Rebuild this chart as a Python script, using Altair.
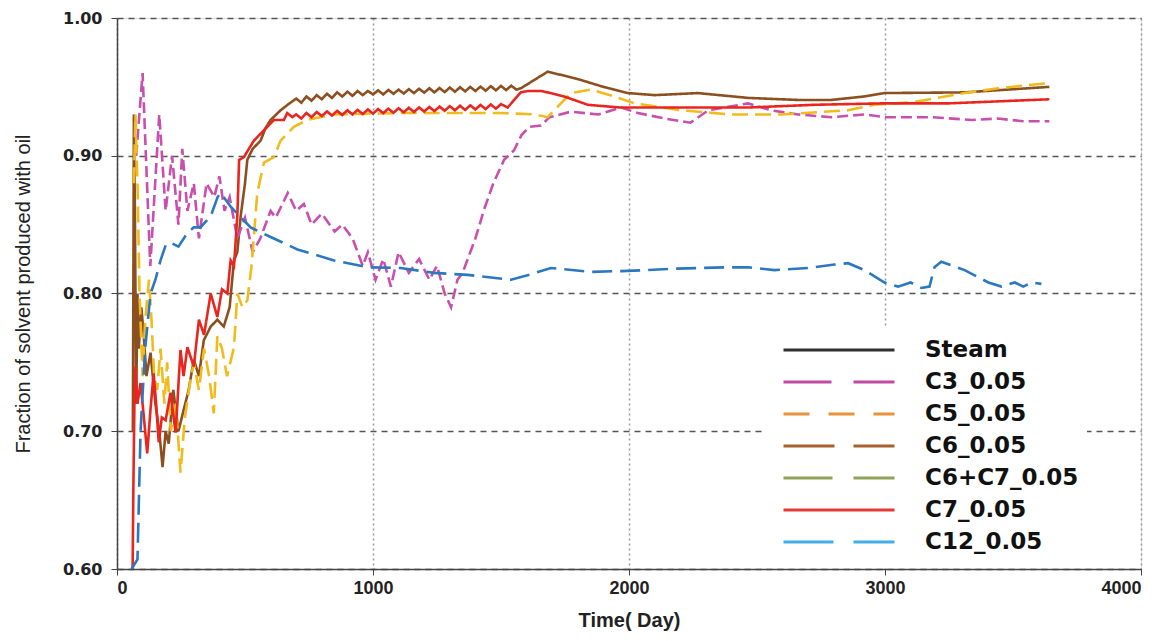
import altair as alt
import pandas as pd

# ---------------- data ----------------
names = ["Steam", "C3_0.05", "C5_0.05", "C6_0.05", "C6+C7_0.05", "C7_0.05", "C12_0.05"]

steam_day = [62, 66, 70, 75, 80, 85, 95, 104, 115, 131, 150, 165, 178, 190, 202, 220, 240, 261, 280, 300,
             320, 339, 366, 392, 417, 440, 457, 470, 483, 500, 509, 530, 561, 580, 600, 639, 670,
             700, 720, 740, 760, 780, 800, 820, 840, 860, 880, 900, 920, 940, 960, 980, 1000, 1020, 1040,
             1060, 1080, 1100, 1120, 1140, 1160, 1180, 1200, 1220, 1240, 1260, 1280, 1300, 1320, 1340,
             1360, 1380, 1400, 1420, 1440, 1460, 1480, 1500, 1520, 1540, 1560, 1578,
             1630, 1682, 1750, 1812, 1900, 1996, 2100, 2269, 2465, 2660, 2789, 2918, 2998, 3311, 3642]
steam_val = [0.70, 0.93, 0.86, 0.72, 0.80, 0.76, 0.79, 0.771, 0.74, 0.757, 0.72, 0.70, 0.674, 0.70, 0.691,
             0.73, 0.70, 0.716, 0.73, 0.752, 0.74, 0.766, 0.776, 0.781, 0.776, 0.79, 0.824, 0.83, 0.856,
             0.88, 0.897, 0.905, 0.911, 0.92, 0.926, 0.933, 0.9375,
             0.9415, 0.9385, 0.9430, 0.9400, 0.9440, 0.9410, 0.9450, 0.9420, 0.9460, 0.9430, 0.9465,
             0.9435, 0.9470, 0.9440, 0.9470, 0.9445, 0.9475, 0.9445, 0.9478, 0.9450, 0.9480, 0.9452,
             0.9483, 0.9455, 0.9486, 0.9458, 0.9490, 0.9460, 0.9492, 0.9462, 0.9495, 0.9465, 0.9497,
             0.9467, 0.9500, 0.9470, 0.9502, 0.9472, 0.9505, 0.9475, 0.9507, 0.9477, 0.9508, 0.9480,
             0.949, 0.955, 0.961, 0.958, 0.955, 0.950, 0.9455, 0.944, 0.9455, 0.942, 0.9405, 0.9405,
             0.943, 0.9455, 0.946, 0.950]

c3_day = [75, 100, 130, 165, 190, 215, 240, 255, 275, 300, 320, 350, 380, 400, 420, 440, 470, 500, 530,
          560, 600, 620, 667, 700, 730, 760, 800, 850, 880, 920, 960, 980, 1010, 1040, 1070, 1100, 1140,
          1180, 1220, 1250, 1280, 1305, 1330, 1350, 1400, 1434, 1470, 1512, 1551, 1580, 1610, 1656, 1690,
          1773, 1880, 1970, 2035, 2140, 2240, 2310, 2465, 2555, 2660, 2790, 2920, 3000, 3180, 3340,
          3440, 3545, 3642]
c3_val = [0.90, 0.96, 0.82, 0.93, 0.86, 0.90, 0.85, 0.905, 0.86, 0.88, 0.84, 0.88, 0.87, 0.885, 0.86,
          0.87, 0.84, 0.855, 0.83, 0.84, 0.86, 0.855, 0.873, 0.86, 0.865, 0.85, 0.858, 0.845, 0.85, 0.84,
          0.82, 0.83, 0.81, 0.825, 0.805, 0.83, 0.815, 0.825, 0.81, 0.82, 0.80, 0.79, 0.81, 0.815, 0.84,
          0.861, 0.88, 0.897, 0.904, 0.915, 0.921, 0.922, 0.928, 0.932, 0.930, 0.935, 0.931, 0.927,
          0.924, 0.933, 0.938, 0.933, 0.930, 0.928, 0.930, 0.928, 0.928, 0.926, 0.927, 0.925, 0.925]

c5_day = [66, 72, 80, 88, 100, 110, 125, 135, 145, 157, 170, 185, 196, 210, 230, 248, 265, 287, 300, 320,
          340, 360, 378, 392, 410, 430, 457, 470, 490, 509, 525, 548, 574, 613, 639, 691, 744, 848, 1108,
          1500, 1630, 1682, 1734, 1773, 1851, 1943, 2022, 2203, 2399, 2595, 2856, 2958, 3115, 3311,
          3443, 3650]
c5_val = [0.88, 0.93, 0.88, 0.80, 0.74, 0.78, 0.81, 0.78, 0.74, 0.73, 0.76, 0.72, 0.75, 0.70, 0.72, 0.67,
          0.71, 0.737, 0.75, 0.73, 0.76, 0.74, 0.713, 0.769, 0.76, 0.74, 0.761, 0.80, 0.79, 0.795, 0.819,
          0.873, 0.895, 0.899, 0.911, 0.921, 0.926, 0.930, 0.931, 0.931, 0.930, 0.928, 0.938, 0.9455,
          0.948, 0.943, 0.938, 0.933, 0.930, 0.930, 0.933, 0.937, 0.939, 0.9455, 0.949, 0.953]

c7_day = [61, 64, 68, 72, 80, 92, 105, 118, 131, 143, 153, 163, 175, 190, 209, 229, 248, 260, 275, 300,
          320, 340, 366, 392, 410, 431, 444, 457, 470, 477, 496, 515, 535, 561, 587, 613, 652, 665, 685,
          700, 720, 740, 760, 780, 800, 820, 840, 860, 880, 900, 920, 940, 960, 980, 1000, 1020, 1040,
          1060, 1080, 1100, 1120, 1140, 1160, 1180, 1200, 1220, 1240, 1260, 1280, 1300, 1320, 1340,
          1360, 1380, 1400, 1420, 1440, 1460, 1480, 1500, 1526, 1577, 1604, 1656, 1682, 1747, 1839,
          1968, 2203, 2465, 2725, 2985, 3246, 3642]
c7_val = [0.60, 0.66, 0.72, 0.747, 0.72, 0.735, 0.71, 0.684, 0.716, 0.742, 0.72, 0.692, 0.71, 0.708,
          0.728, 0.699, 0.759, 0.74, 0.761, 0.747, 0.781, 0.77, 0.80, 0.783, 0.803, 0.80, 0.824, 0.82,
          0.856, 0.897, 0.899, 0.905, 0.911, 0.916, 0.921, 0.926, 0.926, 0.931, 0.928,
          0.9300, 0.9270, 0.9310, 0.9280, 0.9318, 0.9288, 0.9322, 0.9292, 0.9326, 0.9296, 0.9330,
          0.9300, 0.9333, 0.9303, 0.9336, 0.9306, 0.9339, 0.9309, 0.9342, 0.9312, 0.9345, 0.9315,
          0.9348, 0.9318, 0.9351, 0.9321, 0.9354, 0.9324, 0.9357, 0.9327, 0.9360, 0.9330, 0.9363,
          0.9333, 0.9366, 0.9336, 0.9369, 0.9339, 0.9372, 0.9342, 0.9375, 0.935, 0.946, 0.947, 0.947,
          0.946, 0.943, 0.937, 0.935, 0.935, 0.935, 0.937, 0.938, 0.938, 0.941]

c12_day = [57, 80, 92, 110, 131, 150, 170, 190, 209, 240, 275, 300, 326, 366, 393, 405, 444, 522, 600,
           705, 848, 979, 1108, 1238, 1370, 1539, 1600, 1695, 1851, 1996, 2177, 2373, 2465, 2568, 2700,
           2803, 2856, 2920, 2998, 3051, 3100, 3142, 3174, 3193, 3220, 3311, 3404, 3455, 3507, 3540,
           3572, 3611]
c12_val = [0.60, 0.607, 0.70, 0.76, 0.80, 0.81, 0.824, 0.835, 0.837, 0.834, 0.844, 0.848, 0.848, 0.856,
           0.870, 0.873, 0.863, 0.848, 0.841, 0.832, 0.824, 0.819, 0.8185, 0.815, 0.8135, 0.810, 0.813,
           0.8185, 0.8157, 0.8164, 0.818, 0.819, 0.819, 0.817, 0.8185, 0.821, 0.822, 0.817, 0.808, 0.805,
           0.808, 0.804, 0.805, 0.819, 0.823, 0.817, 0.808, 0.805, 0.808, 0.805, 0.808, 0.807]

x_ticks = [0, 1000, 2000, 3000, 4000]
y_ticks = [0.6, 0.7, 0.8, 0.9, 1.0]

# ---------------- styles ----------------
plot_colors = ["#8c5020", "#c94fae", "#f2bb1c", "#a8612c", "#8fa35a", "#e8251e", "#2b78c0"]
plot_dashes = [[1, 0], [11, 5], [16, 7], [12, 6], [12, 6], [1, 0], [20, 8]]
legend_colors = ["#2f2f2f", "#c04aa5", "#e8923a", "#a8612c", "#8fa35a", "#e53a35", "#41ade6"]
legend_dashes = [[1, 0], [48, 22], [26, 19], [51, 19], [49, 21], [1, 0], [50, 20]]

rows = []
for name, days, vals in [("Steam", steam_day, steam_val), ("C3_0.05", c3_day, c3_val),
                         ("C5_0.05", c5_day, c5_val), ("C7_0.05", c7_day, c7_val),
                         ("C12_0.05", c12_day, c12_val)]:
    for i, (d, v) in enumerate(zip(days, vals)):
        rows.append({"series": name, "day": d, "frac": v, "order": i})
df = pd.DataFrame(rows)

x_enc = alt.X("day:Q", scale=alt.Scale(domain=[0, 4000], nice=False, zero=False),
              axis=alt.Axis(values=x_ticks, title="Time( Day)", format="d",
                            grid=True, gridColor="#9a9a9a", gridDash=[2, 3], gridWidth=1.5,
                            domainColor="#444", domainWidth=1.5, tickColor="#444", tickSize=6,
                            labelFont="Liberation Sans", labelFontWeight="bold",
                            labelFontSize=18, labelColor="#222", labelPadding=4,
                            titleFont="Liberation Sans", titleFontWeight="bold",
                            titleFontSize=20, titleColor="#222", titlePadding=13))
y_enc = alt.Y("frac:Q", scale=alt.Scale(domain=[0.6, 1.0], nice=False, zero=False),
              axis=alt.Axis(values=y_ticks, format=".2f",
                            title="Fraction of solvent produced  with oil",
                            grid=True, gridColor="#555", gridDash=[6, 5], gridWidth=1.5,
                            domainColor="#444", domainWidth=1.5, tickColor="#444", tickSize=6,
                            labelFont="DejaVu Sans", labelFontWeight="bold", labelFontSize=16,
                            labelColor="#222", labelPadding=9,
                            titleFont="Liberation Sans", titleFontWeight="normal",
                            titleFontSize=20, titleColor="#222", titlePadding=29))

lines = alt.Chart(df).mark_line(strokeWidth=2.6, clip=True).encode(
    x=x_enc, y=y_enc, order="order:Q",
    color=alt.Color("series:N", scale=alt.Scale(domain=names, range=plot_colors), legend=None),
    strokeDash=alt.StrokeDash("series:N", scale=alt.Scale(domain=names, range=plot_dashes), legend=None),
)

leg = alt.Legend(orient="none", legendX=646, legendY=308, title=None, direction="vertical",
                 symbolType="stroke", symbolSize=12321, symbolStrokeWidth=3, clipHeight=32,
                 rowPadding=0, labelFont="DejaVu Sans", labelFontWeight="bold", labelFontSize=23,
                 labelColor="#111", labelOffset=29, symbolOffset=11, padding=8, fillColor="white",
                 labelLimit=400)

legend_layer = alt.Chart(df).transform_filter("datum.day < 0").mark_line(strokeWidth=3).encode(
    x="day:Q", y="frac:Q",
    color=alt.Color("series:N", scale=alt.Scale(domain=names, range=legend_colors), legend=leg),
    strokeDash=alt.StrokeDash("series:N", scale=alt.Scale(domain=names, range=legend_dashes), legend=leg),
)

chart = alt.layer(lines, legend_layer).resolve_scale(
    color="independent", strokeDash="independent"
).properties(
    width=1024, height=551,
    autosize=alt.AutoSizeParams(type="none"),
    padding={"left": 117, "top": 18, "right": 32, "bottom": 72},
).configure_view(stroke="#a6a6a6", strokeWidth=1.5).configure(background="white")

chart.save("out.html", embed_options={"renderer": "svg", "actions": False})
